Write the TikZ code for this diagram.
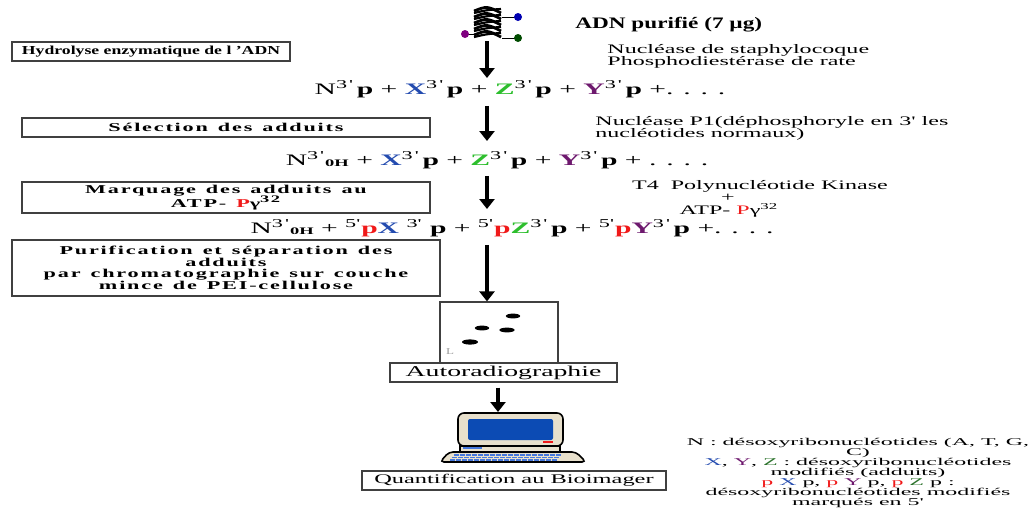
\documentclass[tikz,border=0pt]{standalone}
\usepackage{fontspec}
\setmainfont{Liberation Serif}[FakeStretch=1.45]
\newfontfamily\etire{Liberation Serif}[FakeStretch=1.85]
\newfontfamily\tasse{Liberation Serif}[FakeStretch=2.3]
\usetikzlibrary{arrows.meta,positioning}

\definecolor{adX}{RGB}{35,75,175}
\definecolor{adY}{RGB}{110,25,110}
\definecolor{adZ}{RGB}{45,190,45}
\definecolor{adZd}{RGB}{45,115,45}
\definecolor{marq}{RGB}{240,25,25}
\definecolor{beige}{RGB}{232,224,204}
\definecolor{ecran}{RGB}{12,75,180}
\definecolor{touche}{RGB}{70,120,220}

% adducts and marks
\newcommand{\Xa}{{\color{adX}\textbf{X}}}
\newcommand{\Ya}{{\color{adY}\textbf{Y}}}
\newcommand{\Za}{{\color{adZ}\textbf{Z}}}
\newcommand{\pr}{{\color{marq}\textbf{p}}}
\newcommand{\tro}{\textsuperscript{3\,'}}
\newcommand{\cinq}{\textsuperscript{5'}}
\newcommand{\oh}{\raisebox{-0.6pt}{\fontsize{5}{5}\selectfont\bfseries 0H}}
\newcommand{\mots}{\spaceskip=5pt\relax}

\begin{document}
\lineskiplimit=-10pt
\begin{tikzpicture}
[x=0.5pt,y=-0.5pt,
etape/.style={draw=black!75,line width=0.6pt,inner sep=0pt,align=center,
font=\bfseries\fontsize{6.1}{5.75}\selectfont},
large/.style={font=\etire\bfseries\addfontfeatures{LetterSpace=15}\fontsize{6}{5.75}\selectfont\mots},
note/.style={inner sep=0pt,align=left,font=\etire\fontsize{6.5}{6}\selectfont},
eq/.style={inner sep=0pt,font=\etire\fontsize{8}{9}\selectfont},
fleche/.style={-{Triangle[width=7.5pt,length=5pt]},line width=1.7pt},
tache/.style={fill=black}]

\useasboundingbox (0,0) rectangle (1030,510);

% DNA helix
\foreach \k in {0,...,4}{
  \draw[line width=1.4pt] (474,{11+6*\k}) .. controls (487,{6+6*\k}) .. (501,{13+6*\k});
  \draw[line width=1.1pt] (474,{13+6*\k}) .. controls (487,{10+6*\k}) .. (501,{9+6*\k});
}
\draw (467,34) -- (475,34) (502,17) -- (515,17) (502,38) -- (515,38);
\fill[violet] (465,34) circle (2pt);
\fill[blue!70!black] (518,17) circle (2pt);
\fill[black!70!green] (518,38) circle (2pt);
\node[inner sep=0pt,minimum width=14pt,minimum height=16pt] (adn) at (487,25) {};
\node[anchor=west,inner sep=0pt,font=\bfseries\fontsize{8}{9}\selectfont] (titre) at (575,25) {ADN purifié (7 µg)};

% steps on the left
\node[etape,minimum width=139pt,minimum height=9.5pt] (hydro) at (151,51.5) {Hydrolyse enzymatique de l 'ADN};
\node[etape,large,minimum width=204pt,minimum height=9.5pt] (select) at (226,127.5) {Sélection des adduits};
\node[etape,large,minimum width=204pt,minimum height=15.5pt] (marq) at (226,197.5) {Marquage des adduits au\\[1.3pt]ATP- {\color{marq}P}γ\textsuperscript{32}};
\node[etape,large,minimum width=214pt,minimum height=28pt] (purif) at (226,268) {Purification et séparation des\\adduits\\par chromatographie sur couche\\mince de PEI-cellulose};

% enzymes
\node[note,anchor=north west] (nuc) at (607,44) {Nucléase de staphylocoque\\Phosphodiestérase de rate};
\node[note,anchor=north west] (p1) at (595,116) {Nucléase P1(déphosphoryle en 3' les\\nucléotides normaux)};
\node[note] (t4) at (760,186) {T4\ \ Polynucléotide Kinase};
\node[note] (plus) at (728,198) {+};
\node[note] (atp) at (729,210) {ATP- {\color{marq}P}γ\textsuperscript{32}};

% products
\node[eq] (eq1) at (520,89) {N\tro\,\textbf{p} + \Xa\tro\,\textbf{p} + \Za\tro\,\textbf{p} + \Ya\tro\,\textbf{p} +. . . .};
\node[eq] (eq2) at (497,160) {N\tro\oh{} + \Xa\tro\,\textbf{p} + \Za\tro\,\textbf{p} + \Ya\tro\,\textbf{p} + . . . .};
\node[eq] (eq3) at (512,228) {N\tro\oh{} + \cinq\pr\Xa\ \textsuperscript{3'}\ \textbf{p} + \cinq\pr\Za\tro\,\textbf{p} + \cinq\pr\Ya\tro\,\textbf{p} +. . . .};

% plate
\node[draw=black!75,line width=0.6pt,minimum width=59pt,minimum height=30.5pt,inner sep=0pt] (plaque) at (499,332.5) {};
\fill[tache] (470,342) ellipse (4pt and 1.3pt);
\fill[tache] (482,328) ellipse (3.6pt and 1.2pt);
\fill[tache] (513,316) ellipse (3.6pt and 1.2pt);
\fill[tache] (507,330) ellipse (3.8pt and 1.2pt);
\node[inner sep=0pt,text=black!40,font=\fontsize{4.5}{5}\selectfont] (repere) at (450,352) {L};

\node[etape,font=\etire\mdseries\fontsize{7.5}{8}\selectfont,minimum width=113.5pt,minimum height=9.5pt] (autoradio) at (503.5,372.5) {Autoradiographie};

% computer
\coordinate (pc) at (498,412);
\draw[fill=beige,line width=0.8pt,rounded corners=3pt] (458,413) rectangle (563,446);
\fill[ecran,rounded corners=1pt] (468,419) rectangle (553,440);
\fill[marq] (543,441) rectangle (553,442.5);
\draw[fill=beige,line width=0.6pt] (460,446) rectangle (560,452);
\fill[touche] (463,447) rectangle (482,449);
\draw[fill=beige,line width=0.8pt,rounded corners=2pt] (449,452) -- (576,452) -- (586,462) -- (440,462) -- cycle;
\foreach \r in {0,1,2}
  \foreach \c in {0,...,17}
    \fill[touche] ({454+6*\c-2*\r},{454+2.6*\r}) rectangle ++(5,1.8);
\node[etape,font=\etire\mdseries\fontsize{6.6}{8}\selectfont,minimum width=152pt,minimum height=9.5pt] (quant) at (514,480.5) {Quantification au Bioimager};

% legend
\node[inner sep=0pt,align=center,font=\tasse\fontsize{5.2}{5}\selectfont] (legende) at (858,473)
{N : désoxyribonucléotides (A, T, G,\\C)\\{\color{adX}X}, {\color{adY}Y}, {\color{adZd}Z} : désoxyribonucléotides\\modifiés (adduits)\\{\color{marq}p} {\color{adX}X} p, {\color{marq}p} {\color{adY}Y} p, {\color{marq}p} {\color{adZd}Z} p :\\désoxyribonucléotides modifiés\\marqués en 5'};

% arrows
\draw[fleche] (adn.south) -- (adn.south |- 0,78);
\draw[fleche] (adn.south |- eq1.south) ++(0,8) -- (adn.south |- 0,141);
\draw[fleche] (adn.south |- eq2.south) ++(0,7) -- (adn.south |- 0,209);
\draw[fleche] (adn.south |- eq3.south) ++(0,8) -- (adn.south |- plaque.north);
\draw[fleche] (pc |- autoradio.south) ++(0,5) -- (pc);

\end{tikzpicture}
\end{document}
